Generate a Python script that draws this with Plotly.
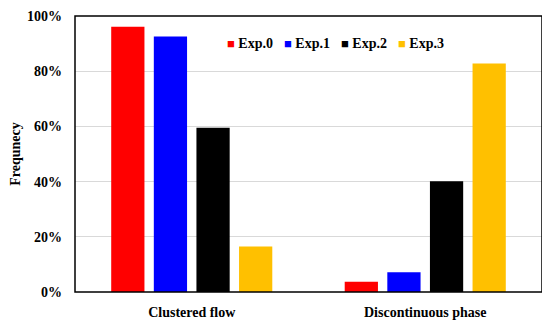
import plotly.graph_objects as go

categories = ["Clustered flow", "Discontinuous phase"]
series_names = ["Exp.0", "Exp.1", "Exp.2", "Exp.3"]
exp0 = [0.961, 0.037]
exp1 = [0.926, 0.072]
exp2 = [0.595, 0.401]
exp3 = [0.165, 0.828]
colors = ["#FF0000", "#0000FF", "#000000", "#FFC000"]
y_ticks = [0, 0.2, 0.4, 0.6, 0.8, 1.0]

FONT = "Liberation Serif"
series = [exp0, exp1, exp2, exp3]
legend_x = [0.322, 0.443, 0.565, 0.687]

fig = go.Figure()
for name, vals, col in zip(series_names, series, colors):
    fig.add_trace(go.Bar(x=categories, y=vals, name=name,
                         marker=dict(color=col, line=dict(width=0)), showlegend=False))

annotations = []
for name, col, lx in zip(series_names, colors, legend_x):
    annotations.append(dict(
        x=lx, y=0.902, xref="paper", yref="paper", xanchor="left", yanchor="middle",
        showarrow=False,
        text=f"<span style='color:{col}; font-size:13px'>■</span> {name}",
        font=dict(family=FONT, size=14, color="black", weight="bold"),
    ))

fig.update_layout(
    width=542, height=317,
    margin=dict(l=67, r=8, t=8, b=33),
    paper_bgcolor="white", plot_bgcolor="white",
    bargap=0.27, bargroupgap=0.22,
    barmode="group",
    showlegend=False,
    annotations=annotations,
    shapes=[dict(type="rect", xref="paper", yref="paper", x0=0, x1=1, y0=0, y1=1,
                 line=dict(color="black", width=1.5), fillcolor="rgba(0,0,0,0)", layer="above")],
    xaxis=dict(showline=False, automargin=False,
               ticks="", ticklabelstandoff=10,
               tickfont=dict(family=FONT, size=14, color="black", weight="bold")),
    yaxis=dict(range=[0, 1], tickvals=y_ticks, tickformat=".0%", automargin=False,
               showline=False,
               showgrid=True, gridcolor="#D9D9D9", gridwidth=1, zeroline=False,
               ticks="", ticklabelstandoff=12,
               tickfont=dict(family=FONT, size=14, color="black", weight="bold"),
               title=dict(text="Frequnecy", font=dict(family=FONT, size=14, color="black", weight="bold"),
                          standoff=6)),
)

fig.write_html("out.html")
